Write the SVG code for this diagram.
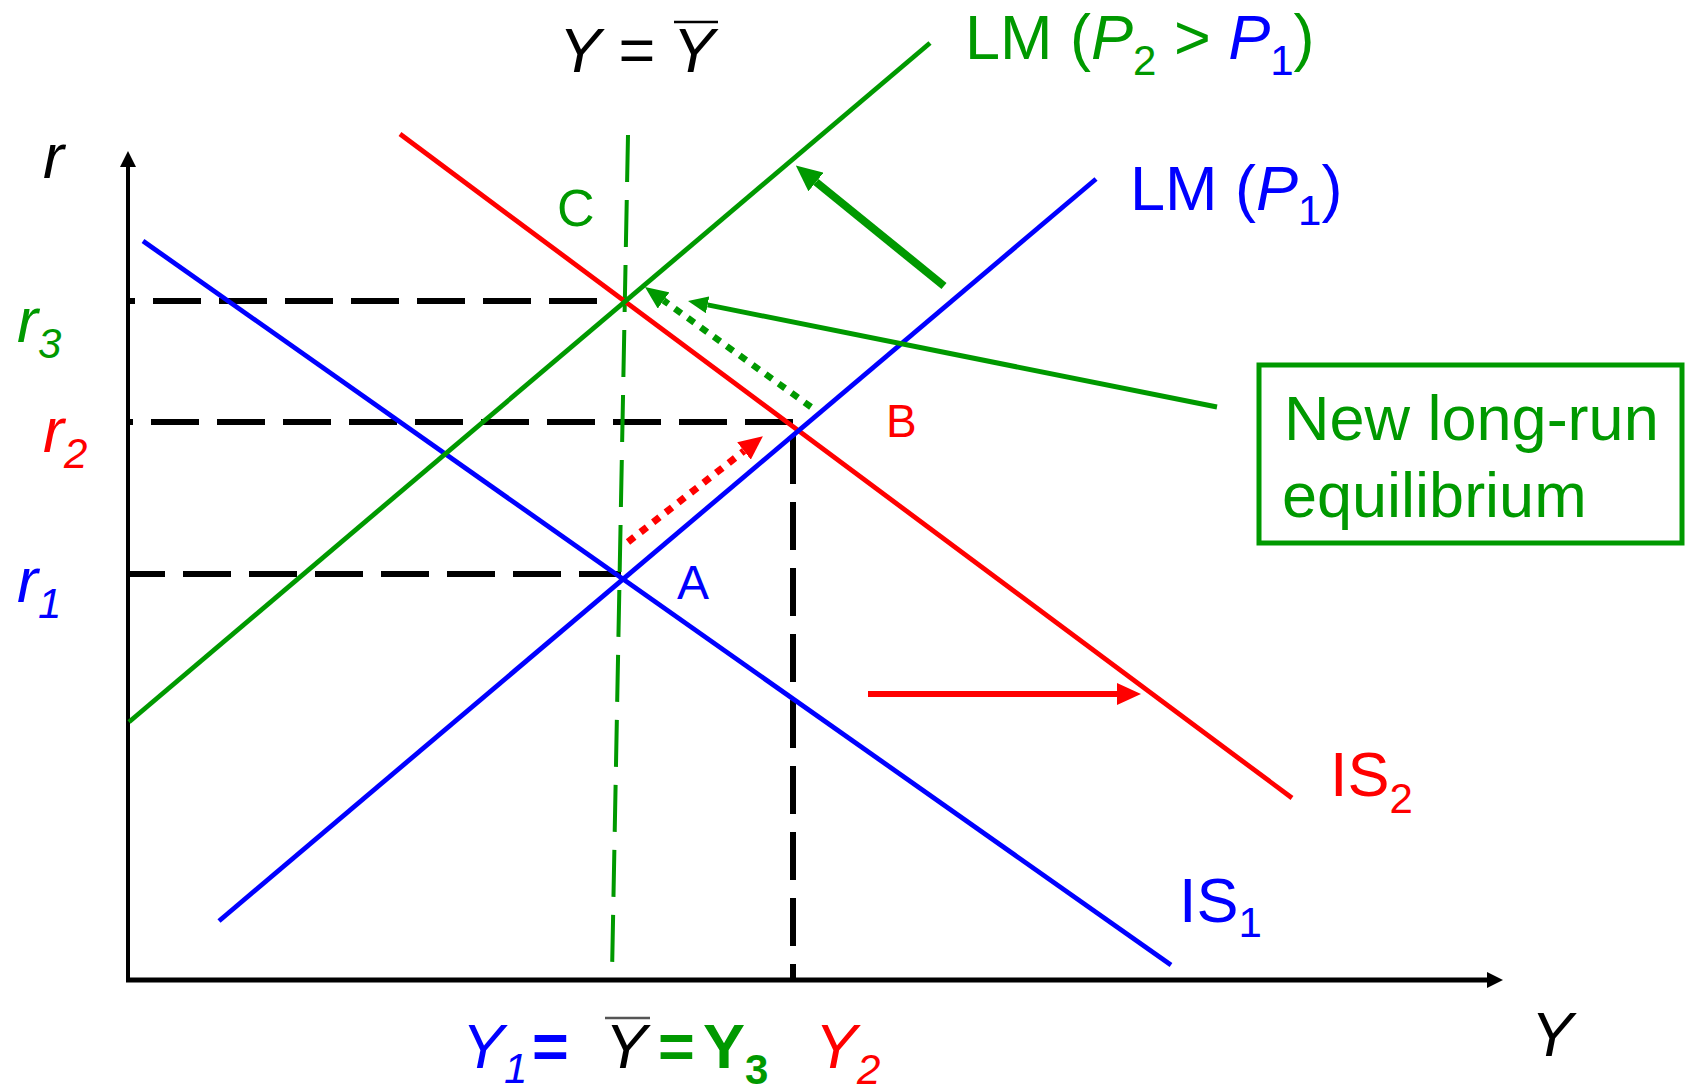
<svg xmlns="http://www.w3.org/2000/svg" width="1685" height="1090" viewBox="0 0 1685 1090">
<style>
text{font-family:"Liberation Sans",Arial,sans-serif;font-size:63px}
.g{fill:#009900}.b{fill:#0000ff}.r{fill:#ff0000}.k{fill:#000}
.i{font-style:italic}
.sub{font-size:42px}
.curve{fill:none;stroke-width:4.8}
.guide{fill:none;stroke:#000;stroke-width:6;stroke-dasharray:48 18}
</style>
<defs>
<marker id="axisHead" markerUnits="userSpaceOnUse" viewBox="0 0 16 16" refX="0" refY="8" markerWidth="16" markerHeight="16" orient="auto"><path d="M0,0 L16,8 L0,16 z" fill="#000"/></marker>
<marker id="bigGreen" markerUnits="userSpaceOnUse" viewBox="0 0 26 24" refX="0" refY="12" markerWidth="26" markerHeight="24" orient="auto"><path d="M0,0 L26,12 L0,24 z" fill="#009900"/></marker>
<marker id="ptrGreen" markerUnits="userSpaceOnUse" viewBox="0 0 20 17" refX="0" refY="8.5" markerWidth="20" markerHeight="17" orient="auto"><path d="M0,0 L20,8.5 L0,17 z" fill="#009900"/></marker>
<marker id="redHead" markerUnits="userSpaceOnUse" viewBox="0 0 24 22" refX="0" refY="11" markerWidth="24" markerHeight="22" orient="auto"><path d="M0,0 L24,11 L0,22 z" fill="#ff0000"/></marker>
<marker id="greenDotHead" markerUnits="userSpaceOnUse" viewBox="0 0 23 20" refX="0" refY="10" markerWidth="23" markerHeight="20" orient="auto"><path d="M0,0 L23,10 L0,20 z" fill="#009900"/></marker>
</defs>
<rect width="1685" height="1090" fill="#fff"/>

<g id="axes">
<line x1="128" y1="982" x2="128" y2="167" stroke="#000" stroke-width="4" marker-end="url(#axisHead)"/>
<line x1="126" y1="980" x2="1487" y2="980" stroke="#000" stroke-width="5" marker-end="url(#axisHead)"/>
<text class="k i" x="43" y="178">r</text>
<text class="k i" x="1531" y="1056">Y</text>
</g>

<g id="guides">
<line class="guide" x1="597" y1="301" x2="130" y2="301"/>
<line class="guide" x1="793" y1="422" x2="129" y2="422"/>
<line class="guide" x1="129" y1="574" x2="621" y2="574" stroke-dashoffset="12"/>
<line class="guide" x1="793" y1="436" x2="793" y2="980" stroke-width="5" stroke-dasharray="47 19"/>
<line id="ybar-line" x1="628" y1="135" x2="612" y2="974" stroke="#009900" stroke-width="4" stroke-dasharray="47 18"/>
</g>

<g id="IS1">
<line class="curve" x1="143" y1="241" x2="1171" y2="965" stroke="#0000ff"/>
<text class="b" x="1179" y="922">IS<tspan class="sub" dy="15">1</tspan></text>
</g>
<g id="IS2">
<line class="curve" x1="400" y1="134" x2="1292" y2="798" stroke="#ff0000"/>
<text class="r" x="1330" y="796">IS<tspan class="sub" dy="17">2</tspan></text>
</g>
<g id="LM1">
<line class="curve" x1="219" y1="921" x2="1096" y2="179" stroke="#0000ff"/>
<text class="b" x="1130" y="210">LM (<tspan class="i">P</tspan><tspan class="sub" dy="15">1</tspan><tspan dy="-15">)</tspan></text>
</g>
<g id="LM2">
<line class="curve" x1="129" y1="722" x2="930" y2="43" stroke="#009900"/>
<text class="g" x="965" y="59">LM (<tspan class="i">P</tspan><tspan class="sub" dy="16">2</tspan><tspan dy="-16"> &gt; </tspan><tspan class="b i">P</tspan><tspan class="b sub" dy="16">1</tspan><tspan dy="-16">)</tspan></text>
</g>

<g id="ybar-label">
<text class="k" x="559" y="72"><tspan class="i">Y</tspan> = <tspan class="i">Y</tspan></text>
<line x1="674" y1="22" x2="718" y2="22" stroke="#000" stroke-width="2.5"/>
</g>

<g id="rate-labels">
<text class="g i" x="17" y="342">r<tspan class="sub" dy="16">3</tspan></text>
<text class="r i" x="43" y="452">r<tspan class="sub" dy="16">2</tspan></text>
<text class="b i" x="17" y="602">r<tspan class="sub" dy="16">1</tspan></text>
</g>

<g id="point-labels">
<text class="g" x="557" y="226" style="font-size:52px">C</text>
<text class="b" x="677" y="599" style="font-size:48px">A</text>
<text class="r" x="886" y="437" style="font-size:46px">B</text>
</g>

<g id="output-labels">
<text class="b i" x="462" y="1068">Y<tspan class="sub" dy="15">1</tspan></text>
<text class="b" x="532" y="1068" font-weight="bold">=</text>
<text class="k i" x="605" y="1068">Y</text>
<line x1="605" y1="1018" x2="650" y2="1018" stroke="#555" stroke-width="2.5"/>
<text class="g" x="658" y="1068" font-weight="bold">=</text>
<text class="g" x="703" y="1068" font-weight="bold">Y<tspan class="sub" dy="16">3</tspan></text>
<text class="r i" x="815" y="1068">Y<tspan class="sub" dy="16">2</tspan></text>
</g>

<g id="box-new-equilibrium">
<rect x="1259" y="365" width="423" height="178" fill="none" stroke="#009900" stroke-width="5"/>
<text class="g" x="1284" y="440">New long-run</text>
<text class="g" x="1282" y="517">equilibrium</text>
</g>

<g id="connectors">
<line x1="944" y1="286" x2="816" y2="182" stroke="#009900" stroke-width="8" marker-end="url(#bigGreen)"/>
<line x1="1217" y1="407" x2="707.6" y2="304.9" stroke="#009900" stroke-width="5" marker-end="url(#ptrGreen)"/>
<line x1="868" y1="694" x2="1117" y2="694" stroke="#ff0000" stroke-width="6" marker-end="url(#redHead)"/>
<line x1="628" y1="542" x2="744" y2="451" stroke="#ff0000" stroke-width="7" stroke-dasharray="8 8" marker-end="url(#redHead)"/>
<line x1="811" y1="407" x2="663.6" y2="300.5" stroke="#009900" stroke-width="6.5" stroke-dasharray="8 8" marker-end="url(#greenDotHead)"/>
</g>
</svg>
